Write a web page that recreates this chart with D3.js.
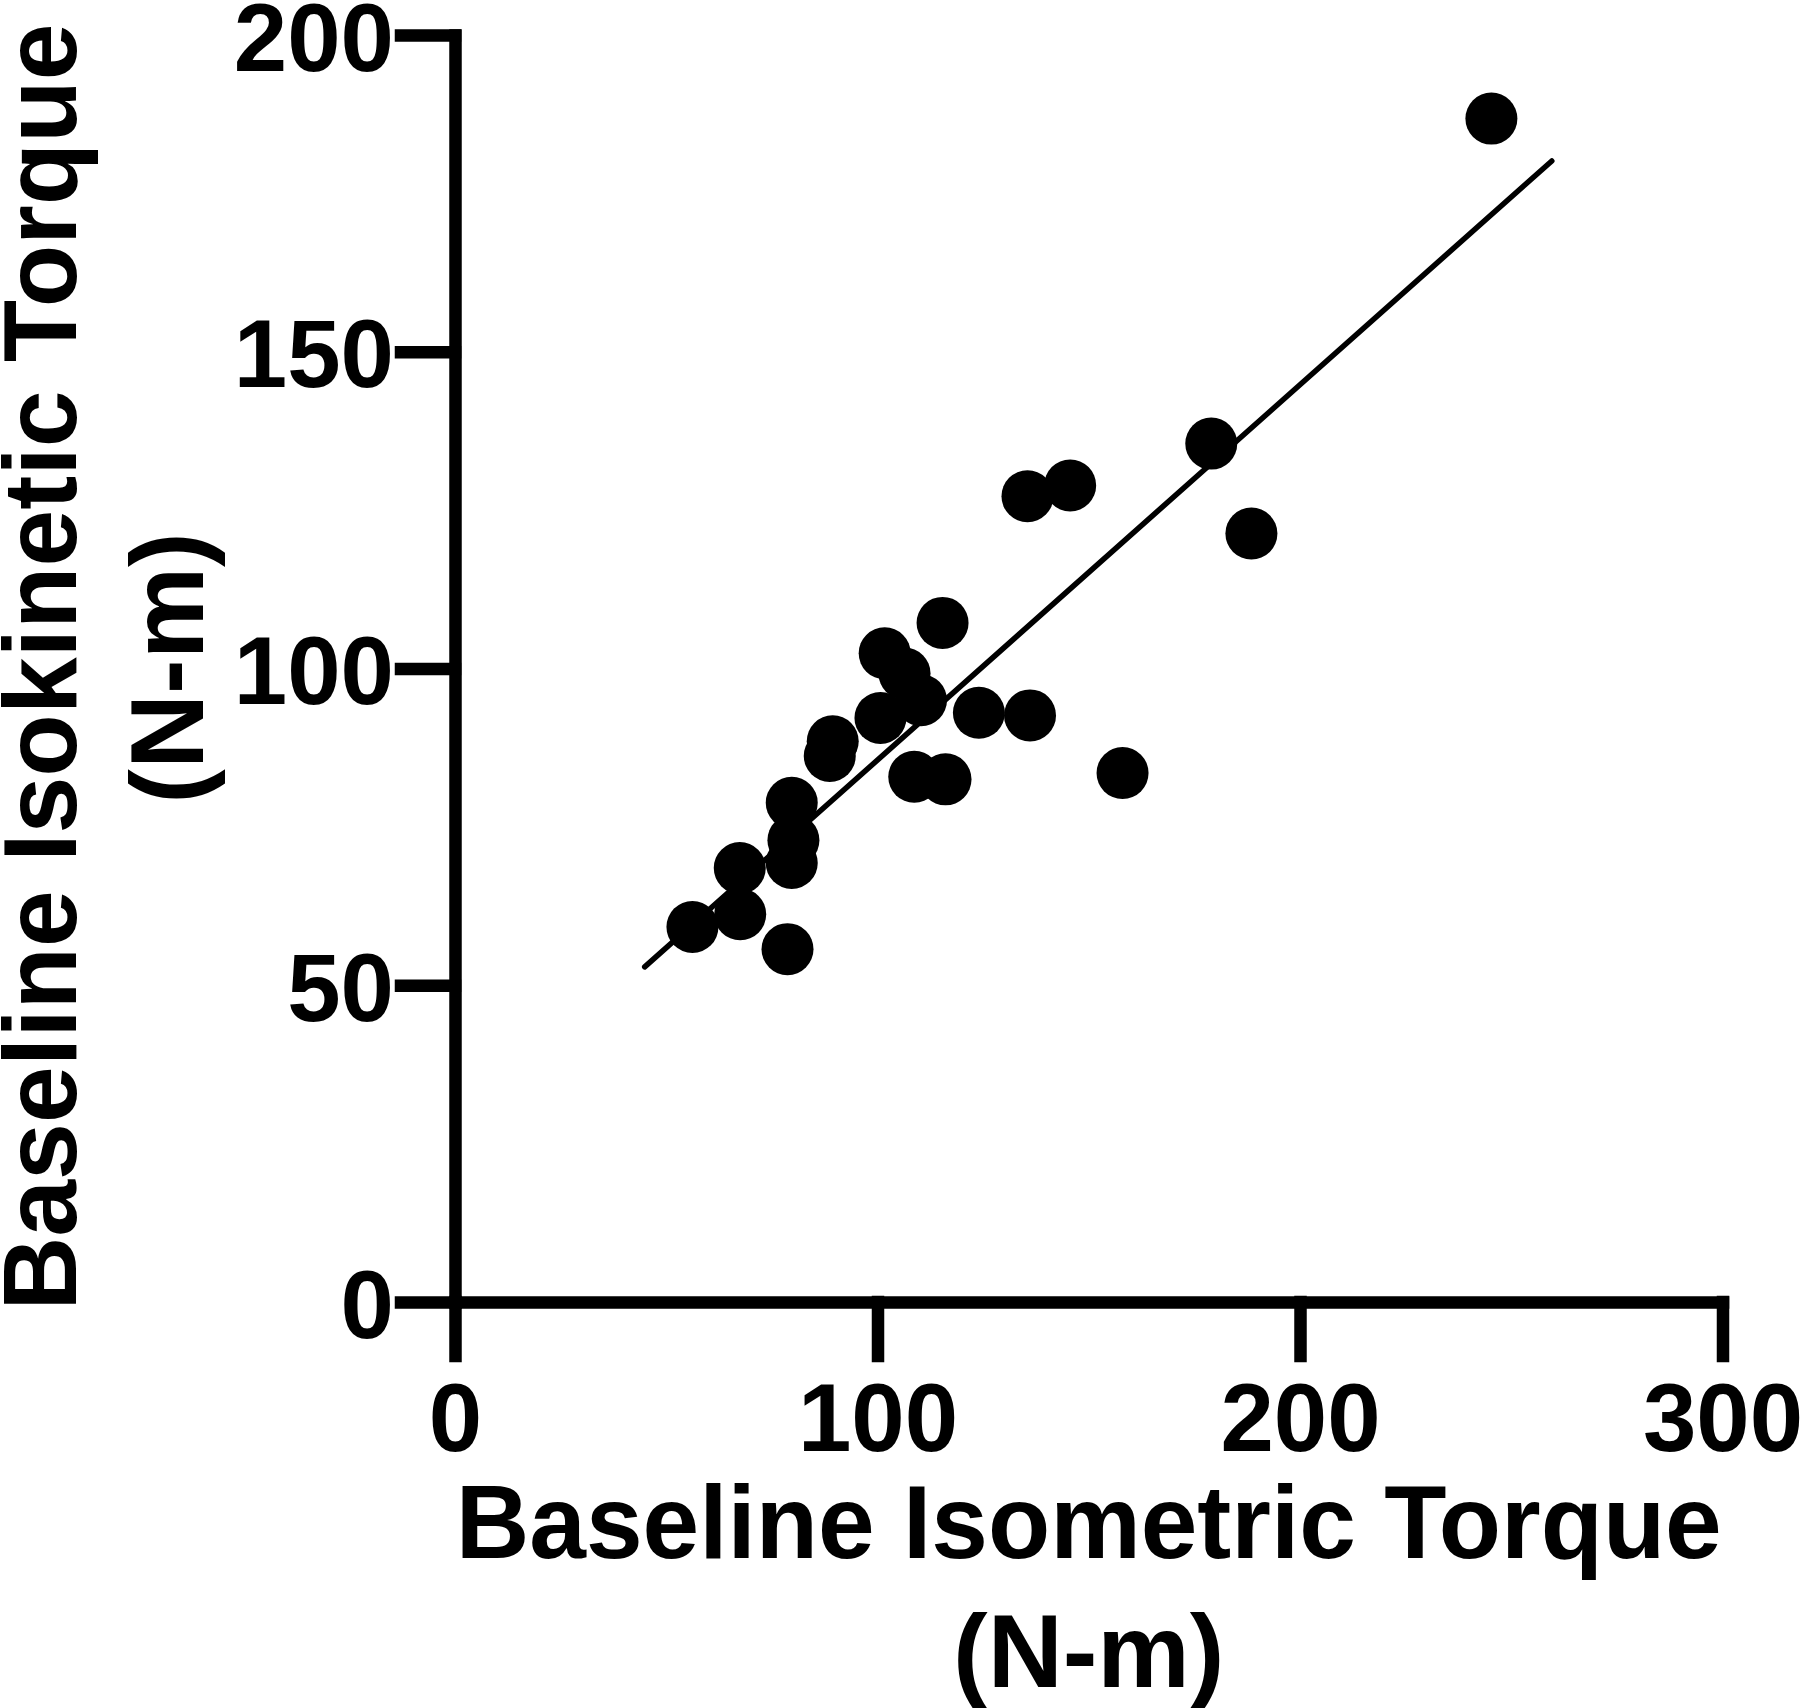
<!DOCTYPE html>
<html>
  <head>
    <meta charset="utf-8">
    <title>Baseline Isokinetic vs Isometric Torque</title>
    <script src="https://d3js.org/d3.v7.min.js"></script>
    <style>
      body { margin: 0; background: #fff; }
      text { font-family: "Liberation Sans", Arial, sans-serif; font-weight: bold; fill: #000; }
      .axis path, .axis line { stroke: #000; stroke-width: 12.5; stroke-linecap: square; }
    </style>
  </head>
  <body>
    <script type="text/javascript">
    // values (N-m)
    var isometric = [245.3, 179.0, 188.5, 135.5, 145.6, 158.0, 115.4, 101.7, 106.4, 110.3, 100.7, 124.0,
                     136.1, 89.4, 88.7, 108.7, 116.1, 79.7, 80.1, 79.7, 67.4, 67.5, 56.2, 78.7];
    var isokinetic = [186.8, 135.5, 121.3, 127.2, 128.9, 83.5, 107.2, 102.4, 99.2, 95.0, 92.2, 93.0,
                      92.6, 88.5, 86.2, 82.9, 82.5, 78.8, 72.9, 69.3, 68.5, 61.2, 59.2, 55.7];
    var xTicks = [0, 100, 200, 300];
    var yTicks = [0, 50, 100, 150, 200];

    // linear fit drawn in the figure
    var fitSlope = 0.5925, fitIntercept = 26.3;
    var fitRange = [44.9, 259.6];

    var width = 1800, height = 1708;

    var xScale = d3.scaleLinear().domain([0, 300]).range([455, 1722.5]);
    var yScale = d3.scaleLinear().domain([0, 200]).range([1302, 35]);

    var svg = d3.select("body").append("svg")
        .attr("width", width)
        .attr("height", height)
        .style("display", "block");

    svg.append("rect").attr("width", width).attr("height", height).attr("fill", "#fff");

    // x-axis
    var xAxis = svg.append("g")
        .attr("class", "axis")
        .attr("transform", "translate(0," + yScale(0) + ")")
        .call(d3.axisBottom(xScale)
            .tickValues(xTicks)
            .tickSize(54)
            .tickSizeOuter(0)
            .tickPadding(28)
            .tickFormat(d3.format("d")));
    xAxis.selectAll("text")
        .attr("font-size", 96)
        .attr("dy", null)
        .attr("y", 149)
        .attr("fill", "#000");

    // y-axis
    var yAxis = svg.append("g")
        .attr("class", "axis")
        .attr("transform", "translate(" + xScale(0) + ",0)")
        .call(d3.axisLeft(yScale)
            .tickValues(yTicks)
            .tickSize(54)
            .tickSizeOuter(0)
            .tickPadding(10)
            .tickFormat(d3.format("d")));
    yAxis.selectAll("text")
        .attr("font-size", 96)
        .attr("dy", null)
        .attr("y", 35)
        .attr("x", -61)
        .attr("fill", "#000");

    // axis titles
    var xMid = (xScale.range()[0] + xScale.range()[1]) / 2;
    svg.append("text")
        .attr("x", xMid)
        .attr("y", 1558)
        .attr("font-size", 104)
        .attr("text-anchor", "middle")
        .attr("textLength", 1266)
        .attr("lengthAdjust", "spacingAndGlyphs")
        .text("Baseline Isometric Torque");
    svg.append("text")
        .attr("x", xMid)
        .attr("y", 1687)
        .attr("font-size", 104)
        .attr("text-anchor", "middle")
        .text("(N-m)");

    svg.append("text")
        .attr("transform", "translate(76,667) rotate(-90)")
        .attr("font-size", 104)
        .attr("text-anchor", "middle")
        .attr("textLength", 1287)
        .attr("lengthAdjust", "spacingAndGlyphs")
        .text("Baseline Isokinetic Torque");
    svg.append("text")
        .attr("transform", "translate(203,668) rotate(-90)")
        .attr("font-size", 104)
        .attr("text-anchor", "middle")
        .text("(N-m)");

    // regression line
    svg.append("line")
        .attr("x1", xScale(fitRange[0]))
        .attr("y1", yScale(fitSlope * fitRange[0] + fitIntercept))
        .attr("x2", xScale(fitRange[1]))
        .attr("y2", yScale(fitSlope * fitRange[1] + fitIntercept))
        .attr("stroke", "#000")
        .attr("stroke-width", 5.5)
        .attr("stroke-linecap", "round");

    // points
    svg.append("g")
      .selectAll("circle")
      .data(isometric.map(function(d, i) { return [d, isokinetic[i]]; }))
      .enter()
      .append("circle")
        .attr("cx", function(d) { return xScale(d[0]); })
        .attr("cy", function(d) { return yScale(d[1]); })
        .attr("r", 26)
        .attr("fill", "#000");
    </script>
  </body>
</html>
